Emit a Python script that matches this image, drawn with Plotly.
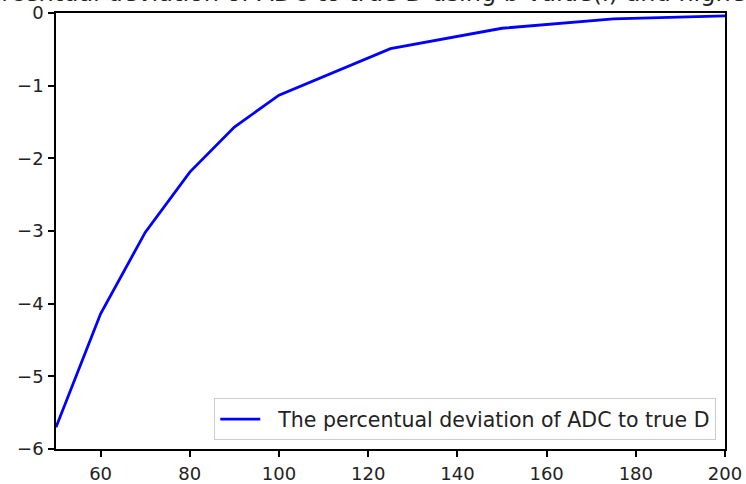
import plotly.graph_objects as go

b_values = [50, 60, 70, 80, 90, 100, 125, 150, 175, 200]
deviation = [-5.70, -4.14, -3.02, -2.19, -1.57, -1.13, -0.49, -0.21, -0.08, -0.04]

x_ticks = [60, 80, 100, 120, 140, 160, 180, 200]
y_ticks = [0, -1, -2, -3, -4, -5, -6]
y_tick_text = ["0", "\u22121", "\u22122", "\u22123", "\u22124", "\u22125", "\u22126"]

title_text = "The percentual deviation of ADC to true D using b-value(i) and higher b-values"
legend_name = "The percentual deviation of ADC to true D"

fig = go.Figure()
fig.add_trace(go.Scatter(
    x=b_values, y=deviation, mode="lines", name="\u00a0\u00a0" + legend_name,
    line=dict(color="#0000ff", width=2.8), showlegend=True,
))

axis_common = dict(
    showgrid=False, zeroline=False, showline=True, linecolor="black", linewidth=1.5,
    mirror=True, ticks="outside", ticklen=6, tickwidth=1.5, tickcolor="black",
    automargin=False,
    tickfont=dict(family="DejaVu Sans", size=18, color="#222222"),
)

fig.update_layout(
    width=746, height=484,
    margin=dict(l=56, r=21, t=13, b=35),
    paper_bgcolor="white", plot_bgcolor="white",
    font=dict(family="DejaVu Sans", size=18, color="#222222"),
    xaxis=dict(range=[50, 200], tickvals=x_ticks, ticklabelstandoff=2, **axis_common),
    yaxis=dict(range=[-6, 0], tickvals=y_ticks, ticktext=y_tick_text, ticklabelstandoff=1, **axis_common),
    showlegend=True,
    legend=dict(
        x=0.987, y=0.02, xanchor="right", yanchor="bottom",
        bgcolor="rgba(255,255,255,0.8)", bordercolor="#cccccc", borderwidth=1,
        itemwidth=40,
        font=dict(family="DejaVu Sans", size=20.5, color="#222222"),
    ),
    annotations=[dict(
        text=title_text, xref="paper", yref="paper", x=0.5, y=1,
        xanchor="center", yanchor="bottom", yshift=4, showarrow=False,
        font=dict(family="DejaVu Sans", size=24, color="#222222"),
    )],
)

fig.write_html("out.html")
